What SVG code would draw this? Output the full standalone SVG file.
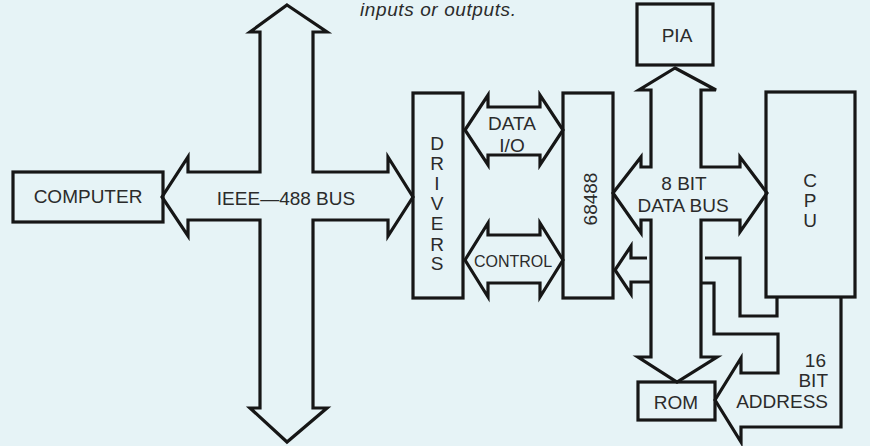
<svg xmlns="http://www.w3.org/2000/svg" width="870" height="446" viewBox="0 0 870 446">
  <style>
    .bg { fill: #e6f3f6; }
    .box { fill: none; stroke: #161616; stroke-width: 3.2; stroke-linejoin: miter; }
    .bus { fill: none; stroke: #161616; stroke-width: 3.2; stroke-linejoin: miter; stroke-linecap: butt; }
    .t { font-family: "Liberation Sans", Arial, sans-serif; font-size: 19px; fill: #2b2b2b; }
    .c { text-anchor: middle; }
    .e { text-anchor: end; }
    .sm { font-size: 16px; }
    .cap { font-family: "Liberation Sans", Arial, sans-serif; font-size: 19px; font-style: italic; fill: #2b2b2b; }
  </style>
  <rect class="bg" x="0" y="0" width="870" height="446"/>
  <text class="cap" x="360" y="16" letter-spacing="0.6">inputs or outputs.</text>

  <g id="connectors">
    <g id="ieee-488-bus">
      <polygon class="bus" points="287,5 327,32 313,32 313,172 388,172 388,157 413,197 388,236 388,220 313,220 313,408 327,408 287,442 250,408 260,408 260,220 188,220 188,236 162,197 188,157 188,172 260,172 260,32 250,32"/>
      <text class="t c" x="286" y="205">IEEE—488 BUS</text>
    </g>
    <g id="data-io">
      <polygon class="bus" points="465,130 488,95 488,107 540,107 540,95 563,130 540,165 540,155 488,155 488,165"/>
      <text class="t c" x="512" y="130">DATA</text>
      <text class="t c" x="512" y="152">I/O</text>
    </g>
    <g id="control">
      <polygon class="bus" points="465,260 488,223 488,235 540,235 540,223 563,260 540,297 540,283 488,283 488,297"/>
      <text class="t c sm" x="513" y="267">CONTROL</text>
    </g>
    <g id="data-bus">
      <polygon class="bus" points="675,68 716,90 701,90 701,167 740,167 740,157 767,193 740,232 740,220 701,220 701,357 717,357 677,382 638,357 651,357 651,220 641,220 641,233 613,193 641,157 641,167 651,167 651,90 639,90"/>
      <text class="t c" x="684" y="190">8 BIT</text>
      <text class="t c" x="683" y="212">DATA BUS</text>
    </g>
    <g id="address-bus">
      <path class="bus" d="M647,258 L631,258 L631,246 L615,270 L631,294 L631,282 L651,282"/>
      <path class="bus" d="M705,258 L740,258 L740,316 L777,316 L777,297"/>
      <path class="bus" d="M702,283 L714,283 L714,334 L778,334 L778,373 L741,373 L741,358 L715,400 L741,442 L741,427 L841,427 L841,297"/>
      <text class="t e" x="826" y="367">16</text>
      <text class="t e" x="828" y="387">BIT</text>
      <text class="t e" x="828" y="408">ADDRESS</text>
    </g>
  </g>

  <g id="computer">
    <rect class="box" x="13" y="172" width="150" height="50"/>
    <text class="t c" x="88" y="203">COMPUTER</text>
  </g>
  <g id="drivers">
    <rect class="box" x="413" y="93" width="50" height="205"/>
    <text class="t c" x="437" y="150">D</text>
    <text class="t c" x="437" y="170">R</text>
    <text class="t c" x="437" y="190">I</text>
    <text class="t c" x="437" y="210">V</text>
    <text class="t c" x="437" y="230">E</text>
    <text class="t c" x="437" y="251">R</text>
    <text class="t c" x="437" y="270">S</text>
  </g>
  <g id="m68488">
    <rect class="box" x="563" y="93" width="50" height="205"/>
    <text class="t c" transform="translate(597,199) rotate(-90)">68488</text>
  </g>
  <g id="pia">
    <rect class="box" x="637" y="4" width="76" height="61"/>
    <text class="t c" x="677" y="42">PIA</text>
  </g>
  <g id="cpu">
    <rect class="box" x="766" y="92" width="89" height="205"/>
    <text class="t c" x="810" y="187">C</text>
    <text class="t c" x="810" y="207">P</text>
    <text class="t c" x="810" y="227">U</text>
  </g>
  <g id="rom">
    <rect class="box" x="638" y="382" width="77" height="38"/>
    <text class="t c" x="676" y="409">ROM</text>
  </g>
</svg>
